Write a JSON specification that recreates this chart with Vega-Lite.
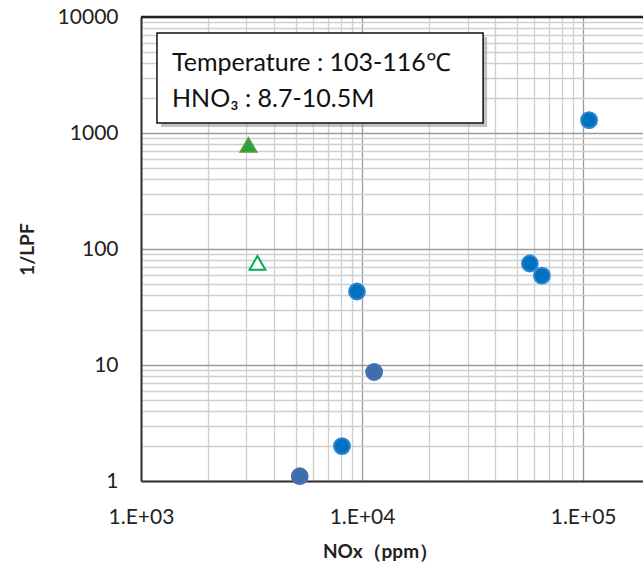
{
  "$schema": "https://vega.github.io/schema/vega-lite/v6.json",
  "width": 502,
  "height": 464,
  "autosize": {"type": "none"},
  "padding": {"left": 141, "top": 17, "right": 0, "bottom": 86},
  "background": "white",
  "config": {"view": {"stroke": null}, "font": "Lato"},
  "datasets": {
    "points": [
      {"nox": 9485, "val": 43, "series": "A"},
      {"nox": 8110, "val": 2.0, "series": "A"},
      {"nox": 57400, "val": 75, "series": "A"},
      {"nox": 65100, "val": 59, "series": "A"},
      {"nox": 106400, "val": 1290, "series": "A"},
      {"nox": 5224, "val": 1.1, "series": "B"},
      {"nox": 11340, "val": 8.7, "series": "B"},
      {"nox": 3063, "val": 788, "series": "C"},
      {"nox": 3364, "val": 76, "series": "D"}
    ],
    "frame": [
      {"nox": 1000, "nox2": 186600, "val": 10000}
    ],
    "note": [
      {"nox": 1181, "nox2": 35280, "val": 7278, "val2": 1219}
    ],
    "notetext": [
      {"nox": 1381, "val": 3424, "label": "Temperature : 103-116℃"},
      {"nox": 1381, "val": 1676, "label": "HNO₃ : 8.7-10.5M"}
    ]
  },
  "encoding": {
    "x": {
      "field": "nox", "type": "quantitative",
      "scale": {"type": "log", "domain": [1000, 186600], "nice": false},
      "axis": {
        "title": "NOx（ppm）",
        "titleFontSize": 19, "titleFontWeight": "bold", "titleColor": "#222",
        "titleX": 239, "titleY": 70, "titleBaseline": "middle", "titleAlign": "center",
        "values": [1000,2000,3000,4000,5000,6000,7000,8000,9000,10000,20000,30000,40000,50000,60000,70000,80000,90000,100000],
        "labelExpr": "datum.value == 1000 ? '1.E+03' : datum.value == 10000 ? '1.E+04' : datum.value == 100000 ? '1.E+05' : ''",
        "labelFontSize": 21, "labelColor": "#222", "labelPadding": 25, "labelFlush": false, "labelOverlap": false,
        "ticks": false, "tickSize": 0,
        "domain": true, "domainColor": "#333", "domainWidth": 2,
        "grid": true,
        "gridColor": {"condition": {"test": "datum.value == 1000 || datum.value == 10000 || datum.value == 100000", "value": "#9a9a9a"}, "value": "#cfcfcf"},
        "gridWidth": 1.3
      }
    },
    "y": {
      "field": "val", "type": "quantitative",
      "scale": {"type": "log", "domain": [1, 10000], "nice": false},
      "axis": {
        "title": "1/LPF",
        "titleFontSize": 19, "titleFontWeight": "bold", "titleColor": "#222",
        "titleX": -114, "titleY": 232, "titleAngle": -90, "titleBaseline": "middle", "titleAlign": "center",
        "values": [1,2,3,4,5,6,7,8,9,10,20,30,40,50,60,70,80,90,100,200,300,400,500,600,700,800,900,1000,2000,3000,4000,5000,6000,7000,8000,9000,10000],
        "labelExpr": "datum.value == 1 ? '1' : datum.value == 10 ? '10' : datum.value == 100 ? '100' : datum.value == 1000 ? '1000' : datum.value == 10000 ? '10000' : ''",
        "labelFontSize": 21, "labelColor": "#222", "labelPadding": 23, "labelFlush": false, "labelOverlap": false,
        "ticks": false, "tickSize": 0,
        "domain": true, "domainColor": "#333", "domainWidth": 2,
        "grid": true,
        "gridColor": {"condition": {"test": "datum.value == 1 || datum.value == 10 || datum.value == 100 || datum.value == 1000 || datum.value == 10000", "value": "#9a9a9a"}, "value": "#cfcfcf"},
        "gridWidth": 1.3
      }
    }
  },
  "layer": [
    {
      "data": {"name": "points"},
      "mark": {"type": "point", "filled": false, "strokeWidth": 2, "opacity": 1},
      "encoding": {
        "shape": {"field": "series", "type": "nominal", "legend": null,
          "scale": {"domain": ["A","B","C","D"], "range": ["circle","circle","triangle-up","triangle-up"]}},
        "fill": {"field": "series", "type": "nominal", "legend": null,
          "scale": {"domain": ["A","B","C","D"], "range": ["#0070C0","#3F6EAD","#1CA545","#ffffff"]}},
        "stroke": {"field": "series", "type": "nominal", "legend": null,
          "scale": {"domain": ["A","B","C","D"], "range": ["#2a86cf","#4573b0","#5b9a32","#00B050"]}},
        "size": {"field": "series", "type": "nominal", "legend": null,
          "scale": {"domain": ["A","B","C","D"], "range": [250, 250, 170, 150]}}
      }
    },
    {
      "data": {"name": "frame"},
      "mark": {"type": "rule", "color": "#222", "strokeWidth": 2.5},
      "encoding": {"x2": {"field": "nox2"}}
    },
    {
      "data": {"name": "note"},
      "mark": {"type": "rect", "fill": "#9a9a9a", "opacity": 0.6, "xOffset": 4, "yOffset": 4, "x2Offset": 4, "y2Offset": 4},
      "encoding": {"x2": {"field": "nox2"}, "y2": {"field": "val2"}}
    },
    {
      "data": {"name": "note"},
      "mark": {"type": "rect", "fill": "white", "stroke": "#111", "strokeWidth": 1.5},
      "encoding": {"x2": {"field": "nox2"}, "y2": {"field": "val2"}}
    },
    {
      "data": {"name": "notetext"},
      "mark": {"type": "text", "align": "left", "baseline": "alphabetic", "fontSize": 25, "color": "#111", "font": "Lato"},
      "encoding": {"text": {"field": "label"}}
    }
  ]
}
